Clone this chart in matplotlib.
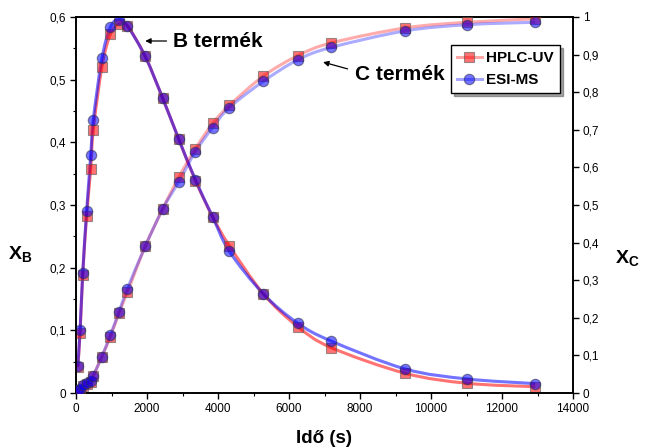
import matplotlib
matplotlib.use("Agg")
import matplotlib.pyplot as plt
import numpy as np
from matplotlib.path import Path
from matplotlib.patches import PathPatch
from matplotlib.lines import Line2D
from matplotlib.ticker import MultipleLocator, FuncFormatter

plt.rcParams['font.family'] = ['Liberation Sans', 'DejaVu Sans']
plt.rcParams['mathtext.fontset'] = 'custom'
plt.rcParams['mathtext.rm'] = 'Liberation Sans'
plt.rcParams['mathtext.bf'] = 'Liberation Sans:bold'

# time points (s)
time_s = [50, 115, 190, 300, 415, 485, 730, 970, 1210, 1445, 1950, 2445, 2895,
          3365, 3850, 4320, 5280, 6245, 7185, 9270, 11020, 12935]
# X_B (left axis)
xb_hplc = [0.041, 0.096, 0.189, 0.283, 0.358, 0.419, 0.520, 0.573, 0.589, 0.586,
           0.537, 0.470, 0.405, 0.339, 0.281, 0.235, 0.158, 0.106, 0.0725,
           0.0315, 0.0155, 0.010]
xb_esi = [0.043, 0.101, 0.192, 0.291, 0.379, 0.435, 0.534, 0.584, 0.596, 0.586,
          0.537, 0.470, 0.405, 0.340, 0.281, 0.226, 0.158, 0.1115, 0.083,
          0.0384, 0.0224, 0.015]
# X_C (right axis)
xc_hplc = [0.006, 0.008, 0.018, 0.024, 0.030, 0.045, 0.097, 0.150, 0.2125, 0.2675,
           0.390, 0.490, 0.574, 0.650, 0.717, 0.765, 0.843, 0.897, 0.931,
           0.971, 0.986, 0.995]
xc_esi = [0.008, 0.010, 0.022, 0.027, 0.031, 0.046, 0.097, 0.155, 0.215, 0.277,
          0.390, 0.490, 0.562, 0.642, 0.706, 0.759, 0.829, 0.886, 0.919,
          0.963, 0.9795, 0.986]

series_names = ['HPLC-UV', 'ESI-MS']
x_ticks = [0, 2000, 4000, 6000, 8000, 10000, 12000, 14000]


def smooth_path(x, y):
    p = np.column_stack([x, y]).astype(float)
    n = len(p)
    verts = [p[0]]
    codes = [Path.MOVETO]
    for i in range(n - 1):
        p0 = p[i - 1] if i > 0 else p[i]
        p1 = p[i]
        p2 = p[i + 1]
        p3 = p[i + 2] if i + 2 < n else p[i + 1]
        c1 = p1 + (p2 - p0) / 6.0
        c2 = p2 - (p3 - p1) / 6.0
        verts += [c1, c2, p2]
        codes += [Path.CURVE4] * 3
    return Path(verts, codes)


fig = plt.figure(figsize=(6.49, 4.48), dpi=100)
ax = fig.add_axes([76 / 649, 55 / 448, 497 / 649, 376 / 448])
ax2 = ax.twinx()

red_line = (1.0, 0.0, 0.0)
blue_line = (0.0, 0.0, 1.0)

# lines
ax.add_patch(PathPatch(smooth_path(time_s, xb_hplc), fill=False, edgecolor=red_line,
                       alpha=0.55, lw=2.2, zorder=2))
ax.add_patch(PathPatch(smooth_path(time_s, xb_esi), fill=False, edgecolor=blue_line,
                       alpha=0.55, lw=2.2, zorder=2))
ax2.add_patch(PathPatch(smooth_path(time_s, xc_hplc), fill=False, edgecolor=red_line,
                        alpha=0.33, lw=2.2, zorder=2))
ax2.add_patch(PathPatch(smooth_path(time_s, xc_esi), fill=False, edgecolor=blue_line,
                        alpha=0.33, lw=2.2, zorder=2))

sq_kw = dict(marker='s', ms=7.5, mfc=(1, 0, 0, 0.55), mec=(0.35, 0.35, 0.35, 0.6),
             mew=0.8, ls='none', zorder=3)
ci_kw = dict(marker='o', ms=7.5, mfc=(0, 0, 1, 0.55), mec=(0.2, 0.2, 0.3, 0.6),
             mew=0.8, ls='none', zorder=4)
ax.plot(time_s, xb_hplc, **sq_kw)
ax.plot(time_s, xb_esi, **ci_kw)
ax2.plot(time_s, xc_hplc, **sq_kw)
ax2.plot(time_s, xc_esi, **ci_kw)

ax.set_xlim(0, 14000)
ax.set_ylim(0, 0.6)
ax2.set_ylim(0, 1)

fmt = FuncFormatter(lambda v, p: ('%g' % round(v, 3)).replace('.', ','))
ax.set_xticks(x_ticks)
ax.xaxis.set_minor_locator(MultipleLocator(1000))
ax.yaxis.set_major_locator(MultipleLocator(0.1))
ax.yaxis.set_minor_locator(MultipleLocator(0.05))
ax.yaxis.set_major_formatter(fmt)
ax2.yaxis.set_major_locator(MultipleLocator(0.1))
ax2.yaxis.set_major_formatter(fmt)

for a in (ax, ax2):
    a.tick_params(which='major', direction='out', length=4, width=1, labelsize=8.5, pad=3)
    a.tick_params(which='minor', direction='out', length=2.5, width=0.8)
    for s in a.spines.values():
        s.set_linewidth(1.2)

ax.set_xlabel('Idő (s)', fontsize=13.5, fontweight='bold', labelpad=11)
fig.text(20 / 649, 1 - 254 / 448, r'$\mathbf{X_B}$', fontsize=14, ha='center', va='center')
fig.text(627 / 649, 1 - 258 / 448, r'$\mathbf{X_C}$', fontsize=14, ha='center', va='center')

arrow_kw = dict(arrowstyle='-|>', color='black', lw=0.9, mutation_scale=8,
                shrinkA=0, shrinkB=0)
ax.annotate('', xy=(1950, 0.5617), xytext=(2550, 0.5617), arrowprops=arrow_kw)
ax.text(2730, 0.5617, 'B termék', fontsize=15, fontweight='bold', va='center', ha='left')
ax2.annotate('', xy=(6960, 0.880), xytext=(7650, 0.862), arrowprops=arrow_kw)
ax2.text(7850, 0.846, 'C termék', fontsize=15, fontweight='bold', va='center', ha='left')

handles = [Line2D([], [], color=(1, 0, 0, 0.35), lw=2.2, **{k: v for k, v in sq_kw.items() if k != 'ls'}),
           Line2D([], [], color=(0, 0, 1, 0.35), lw=2.2, **{k: v for k, v in ci_kw.items() if k != 'ls'})]
leg = ax2.legend(handles, series_names, loc='upper right', bbox_to_anchor=(0.9745, 0.926),
                 frameon=True, fancybox=False, shadow=True, edgecolor='black',
                 prop={'weight': 'bold', 'size': 11}, handlelength=1.6, handletextpad=0.3,
                 borderpad=0.42, labelspacing=0.5, borderaxespad=0)
leg.get_frame().set_linewidth(1.0)

fig.savefig('out.png', dpi=100)
